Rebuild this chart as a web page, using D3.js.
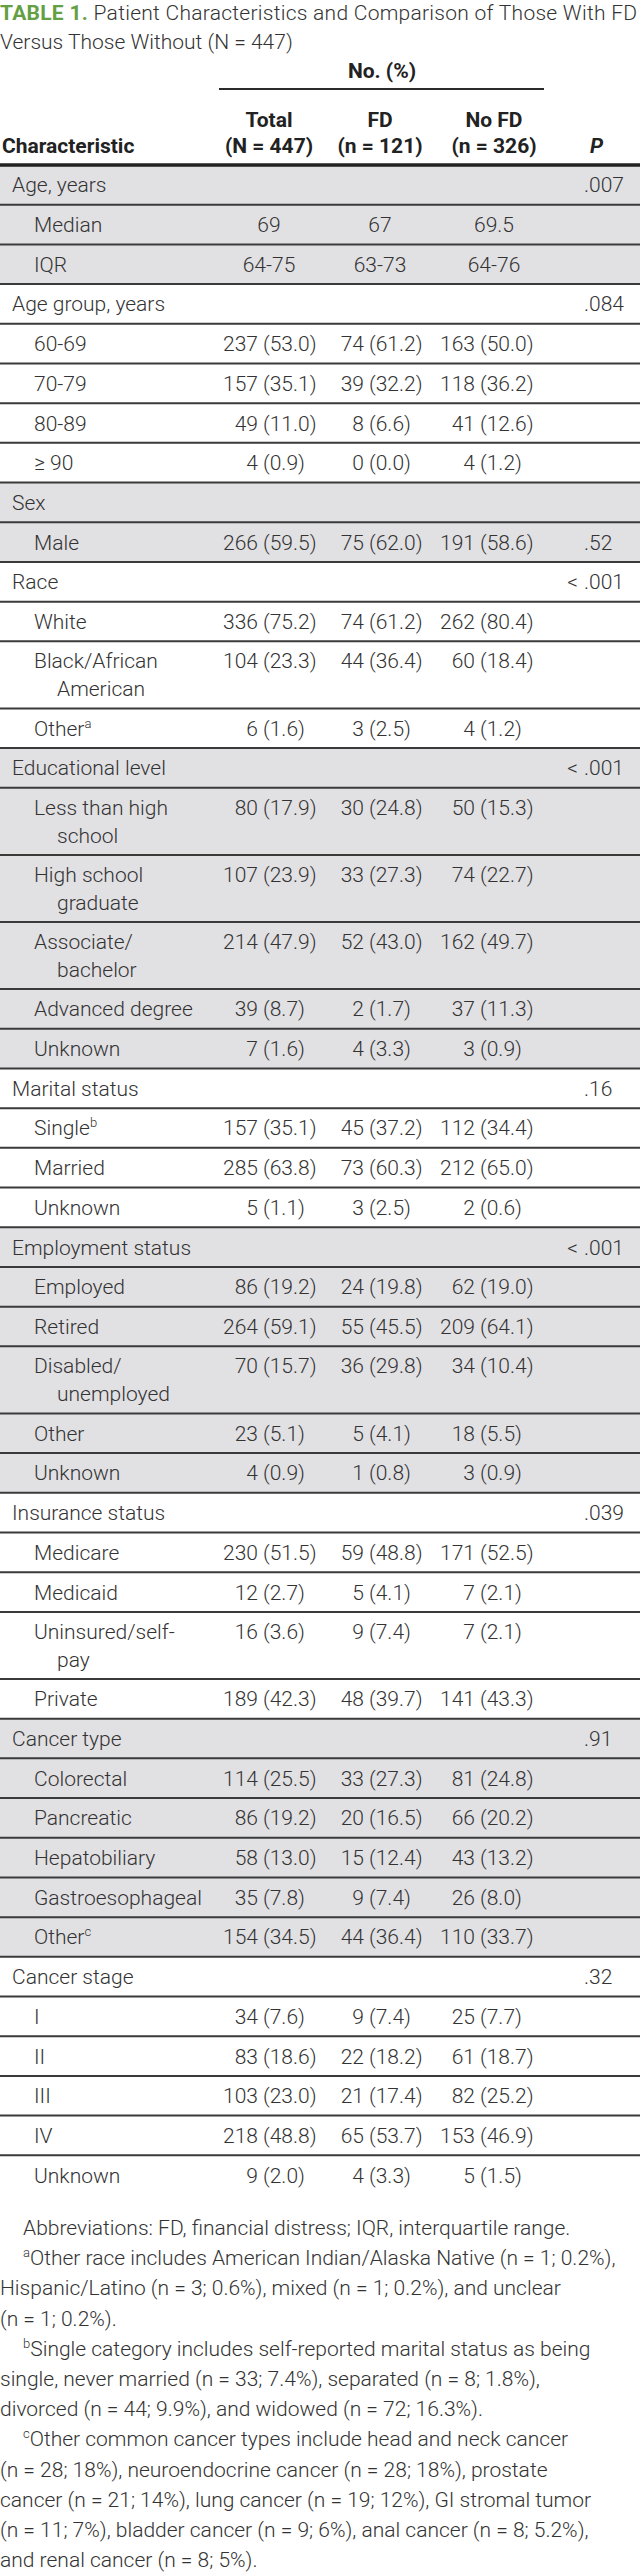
<!DOCTYPE html>
<meta charset="utf-8">
<style>
body { margin: 0; background: #fff; }
svg text { font-family: Roboto, "Liberation Sans", Arial, sans-serif; fill: #333; }
.lt { font-weight: 300; font-size: 21px; }
.hd { font-weight: 700; font-size: 21px; fill: #222; }
.rule { stroke: #3a3a3a; stroke-width: 2px; }
</style>

<svg width="640" height="2573"></svg>
<script src="https://d3js.org/d3.v7.min.js"></script>

<script>

// row labels ("\n" = wrapped line, "^" = footnote mark) and level (0 = group, 1 = item)
var labels = [
  "Age, years", "Median", "IQR",
  "Age group, years", "60-69", "70-79", "80-89", "\u2265 90",
  "Sex", "Male",
  "Race", "White", "Black/African\nAmerican", "Other^a",
  "Educational level", "Less than high\nschool", "High school\ngraduate", "Associate/\nbachelor", "Advanced degree", "Unknown",
  "Marital status", "Single^b", "Married", "Unknown",
  "Employment status", "Employed", "Retired", "Disabled/\nunemployed", "Other", "Unknown",
  "Insurance status", "Medicare", "Medicaid", "Uninsured/self-\npay", "Private",
  "Cancer type", "Colorectal", "Pancreatic", "Hepatobiliary", "Gastroesophageal", "Other^c",
  "Cancer stage", "I", "II", "III", "IV", "Unknown"
];
var level = [
  0,1,1,
  0,1,1,1,1,
  0,1,
  0,1,1,1,
  0,1,1,1,1,1,
  0,1,1,1,
  0,1,1,1,1,1,
  0,1,1,1,1,
  0,1,1,1,1,1,
  0,1,1,1,1,1
];
var totalCol = [
  "", "69", "64-75",
  "", "237 (53.0)", "157 (35.1)", "49 (11.0)", "4 (0.9)",
  "", "266 (59.5)",
  "", "336 (75.2)", "104 (23.3)", "6 (1.6)",
  "", "80 (17.9)", "107 (23.9)", "214 (47.9)", "39 (8.7)", "7 (1.6)",
  "", "157 (35.1)", "285 (63.8)", "5 (1.1)",
  "", "86 (19.2)", "264 (59.1)", "70 (15.7)", "23 (5.1)", "4 (0.9)",
  "", "230 (51.5)", "12 (2.7)", "16 (3.6)", "189 (42.3)",
  "", "114 (25.5)", "86 (19.2)", "58 (13.0)", "35 (7.8)", "154 (34.5)",
  "", "34 (7.6)", "83 (18.6)", "103 (23.0)", "218 (48.8)", "9 (2.0)"
];
var fdCol = [
  "", "67", "63-73",
  "", "74 (61.2)", "39 (32.2)", "8 (6.6)", "0 (0.0)",
  "", "75 (62.0)",
  "", "74 (61.2)", "44 (36.4)", "3 (2.5)",
  "", "30 (24.8)", "33 (27.3)", "52 (43.0)", "2 (1.7)", "4 (3.3)",
  "", "45 (37.2)", "73 (60.3)", "3 (2.5)",
  "", "24 (19.8)", "55 (45.5)", "36 (29.8)", "5 (4.1)", "1 (0.8)",
  "", "59 (48.8)", "5 (4.1)", "9 (7.4)", "48 (39.7)",
  "", "33 (27.3)", "20 (16.5)", "15 (12.4)", "9 (7.4)", "44 (36.4)",
  "", "9 (7.4)", "22 (18.2)", "21 (17.4)", "65 (53.7)", "4 (3.3)"
];
var noFdCol = [
  "", "69.5", "64-76",
  "", "163 (50.0)", "118 (36.2)", "41 (12.6)", "4 (1.2)",
  "", "191 (58.6)",
  "", "262 (80.4)", "60 (18.4)", "4 (1.2)",
  "", "50 (15.3)", "74 (22.7)", "162 (49.7)", "37 (11.3)", "3 (0.9)",
  "", "112 (34.4)", "212 (65.0)", "2 (0.6)",
  "", "62 (19.0)", "209 (64.1)", "34 (10.4)", "18 (5.5)", "3 (0.9)",
  "", "171 (52.5)", "7 (2.1)", "7 (2.1)", "141 (43.3)",
  "", "81 (24.8)", "66 (20.2)", "43 (13.2)", "26 (8.0)", "110 (33.7)",
  "", "25 (7.7)", "61 (18.7)", "82 (25.2)", "153 (46.9)", "5 (1.5)"
];
var pCol = [
  ".007", "", "",
  ".084", "", "", "", "",
  "", ".52",
  "< .001", "", "", "",
  "< .001", "", "", "", "", "",
  ".16", "", "", "",
  "< .001", "", "", "", "", "",
  ".039", "", "", "", "",
  ".91", "", "", "", "", "",
  ".32", "", "", "", "", ""
];

var columns = ["total", "fd", "nofd"];
var columnHead = ["Total", "FD", "No FD"];
var columnN = ["(N = 447)", "(n = 121)", "(n = 326)"];

var footLines = [
  "Abbreviations: FD, financial distress; IQR, interquartile range.",
  "^aOther race includes American Indian/Alaska Native (n = 1; 0.2%),",
  "Hispanic/Latino (n = 3; 0.6%), mixed (n = 1; 0.2%), and unclear",
  "(n = 1; 0.2%).",
  "^bSingle category includes self-reported marital status as being",
  "single, never married (n = 33; 7.4%), separated (n = 8; 1.8%),",
  "divorced (n = 44; 9.9%), and widowed (n = 72; 16.3%).",
  "^cOther common cancer types include head and neck cancer",
  "(n = 28; 18%), neuroendocrine cancer (n = 28; 18%), prostate",
  "cancer (n = 21; 14%), lung cancer (n = 19; 12%), GI stromal tumor",
  "(n = 11; 7%), bladder cancer (n = 9; 6%), anal cancer (n = 8; 5.2%),",
  "and renal cancer (n = 8; 5%)."
];
var paraStarts = [0, 1, 4, 7];

var svg = d3.select("svg"),
    width = +svg.attr("width");

// rows: single line = 1 unit, wrapped = 1.69 units
var rows = labels.map(function(l, i) {
  return { label: l, level: level[i], total: totalCol[i], fd: fdCol[i], nofd: noFdCol[i], p: pCol[i],
           units: l.indexOf("\n") >= 0 ? 1.69 : 1 };
});
var acc = 0, grp = -1;
rows.forEach(function(r) {
  if (r.level == 0) grp++;
  r.group = grp;
  r.u0 = acc;
  acc += r.units;
  r.u1 = acc;
});

var y = d3.scaleLinear().domain([0, acc]).range([165, 2195]);
// x of the "(" in each number column, and centre for plain values
var xParen = d3.scaleOrdinal().domain(columns).range([263, 369, 480]);
var xMid = d3.scaleOrdinal().domain(columns).range([269, 380, 494]);
var xPdot = 584;

//title
var title = svg.append("g");
var t1 = title.append("text").attr("class", "lt").attr("x", 0).attr("y", 20);
t1.append("tspan").text("TABLE 1.").style("font-weight", 700).style("fill", "#64a043");
t1.append("tspan").text(" Patient Characteristics and Comparison of Those With FD");
t1.attr("textLength", 637).attr("lengthAdjust", "spacing");
title.append("text").attr("class", "lt").attr("x", 0).attr("y", 49)
  .text("Versus Those Without (N = 447)");

//header
var head = svg.append("g");
head.append("text").attr("class", "hd").attr("x", 382).attr("y", 78)
  .attr("text-anchor", "middle").text("No. (%)");
head.append("line").attr("x1", 219).attr("x2", 544).attr("y1", 89).attr("y2", 89)
  .style("stroke", "#2a2a2a").style("stroke-width", 2);
head.selectAll(".ch").data(columns).enter().append("text")
  .attr("class", "hd").attr("text-anchor", "middle")
  .attr("x", function(d) { return xMid(d); }).attr("y", 127)
  .text(function(d, i) { return columnHead[i]; });
head.selectAll(".cn").data(columns).enter().append("text")
  .attr("class", "hd").attr("text-anchor", "middle")
  .attr("x", function(d) { return xMid(d); }).attr("y", 153)
  .text(function(d, i) { return columnN[i]; });
head.append("text").attr("class", "hd").attr("x", 2).attr("y", 153).text("Characteristic");
head.append("text").attr("class", "hd").attr("x", 590).attr("y", 153)
  .style("font-style", "italic").text("P");

//body
var body = svg.append("g");
body.selectAll("rect").data(rows).enter().append("rect")
  .attr("x", 0).attr("width", width)
  .attr("y", function(d) { return y(d.u0); })
  .attr("height", function(d) { return y(d.u1) - y(d.u0); })
  .attr("fill", function(d) { return d.group % 2 == 0 ? "#e1e0e3" : "#fff"; });

body.selectAll("line.rule").data(rows.slice(1)).enter().append("line")
  .attr("class", "rule")
  .attr("x1", 0).attr("x2", width)
  .attr("y1", function(d) { return y(d.u0); })
  .attr("y2", function(d) { return y(d.u0); });

svg.append("line").attr("x1", 0).attr("x2", width).attr("y1", 165).attr("y2", 165)
  .style("stroke", "#222").style("stroke-width", 3.5);

var row = body.selectAll("g.row").data(rows).enter().append("g")
  .attr("class", "row")
  .attr("transform", function(d) {
    var top = y(d.u0);
    var base = d.units > 1 ? top + 27 : top + (y(d.u1) - top) / 2 + 7.5;
    return "translate(0," + base + ")";
  });

row.each(function(d) {
  var g = d3.select(this);
  var lines = d.label.split("\n");
  lines.forEach(function(l, j) {
    var x = d.level == 0 ? 12 : (j == 0 ? 34 : 57);
    var t = g.append("text").attr("class", "lt").attr("x", x).attr("y", j * 28);
    var parts = l.split("^");
    t.append("tspan").text(parts[0]);
    if (parts[1]) t.append("tspan").attr("dy", -8).style("font-size", "13px").text(parts[1]);
  });

  columns.forEach(function(c) {
    var v = d[c];
    if (!v) return;
    var k = v.indexOf(" (");
    if (k < 0) {
      g.append("text").attr("class", "lt").attr("text-anchor", "middle")
        .attr("x", xMid(c)).text(v);
    } else {
      g.append("text").attr("class", "lt").attr("text-anchor", "end")
        .attr("x", xParen(c) - 5).text(v.slice(0, k));
      g.append("text").attr("class", "lt")
        .attr("x", xParen(c)).text(v.slice(k + 1));
    }
  });

  if (d.p) {
    var k = d.p.indexOf(".");
    if (k > 0) g.append("text").attr("class", "lt").attr("text-anchor", "end")
      .attr("x", xPdot - 6).text(d.p.slice(0, k).trim());
    g.append("text").attr("class", "lt").attr("x", xPdot).text(d.p.slice(k));
  }
});

//footnotes
var foot = svg.append("g");
foot.selectAll("text").data(footLines).enter().append("text")
  .attr("class", "lt")
  .attr("x", function(d, i) { return paraStarts.indexOf(i) >= 0 ? 23 : 0; })
  .attr("y", function(d, i) { return 2235 + i * 30.2; })
  .each(function(d) {
    var t = d3.select(this);
    if (d[0] == "^") {
      t.append("tspan").attr("dy", -8).style("font-size", "13px").text(d[1]);
      t.append("tspan").attr("dy", 8).text(d.slice(2));
    } else {
      t.text(d);
    }
    fit(t, 638 - +t.attr("x"));
  });

// squeeze a line that runs past the right edge
function fit(sel, maxW) {
  var w = sel.node().getComputedTextLength();
  if (w > maxW) sel.attr("textLength", maxW).attr("lengthAdjust", "spacingAndGlyphs");
}

</script>
